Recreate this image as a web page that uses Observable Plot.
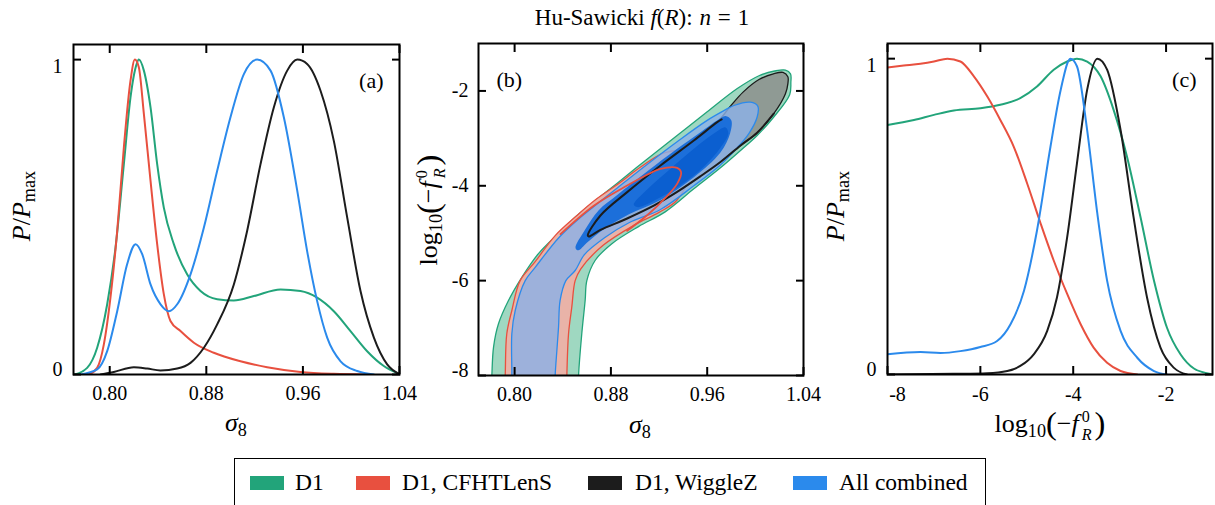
<!DOCTYPE html>
<html><head><meta charset="utf-8">
<script src="https://cdn.jsdelivr.net/npm/d3@7"></script>
<script src="https://cdn.jsdelivr.net/npm/@observablehq/plot@0.6"></script>
<style>
body{margin:0;background:#fff;}
#root{position:relative;width:1215px;height:505px;overflow:hidden;font-family:"Liberation Serif","Times New Roman",serif;color:#000;background:#fff;}
.panel{position:absolute;top:0;}
.lbl{position:absolute;white-space:nowrap;transform:translate(-50%,-50%);font-size:26px;line-height:1;}
.rot{transform:translate(-50%,-50%) rotate(-90deg);}
.sub{font-size:70%;position:relative;top:0.3em;font-style:normal;}
.big{font-size:125%;position:relative;top:0.05em;}
.ss{display:inline-block;vertical-align:-0.5em;font-size:62%;line-height:1.12;text-align:left;margin-left:3px;margin-right:3px;}
.ss span{display:block;}
.sp{display:inline-block;width:0.3em;}
#legend{position:absolute;left:234px;top:458px;width:750px;height:70px;border:1.6px solid #000;background:#fff;}
.sw{position:absolute;width:34px;height:14px;top:17px;}
.lt{position:absolute;top:12px;font-size:23.5px;line-height:1;white-space:nowrap;}
</style></head><body><div id="root"></div>
<script>
// ---------- data ----------
const sigmaTicks = [0.80, 0.88, 0.96, 1.04];
const pTicks = [0, 1];
const fTicks = [-8, -6, -4, -2];
const logTicks = [-2, -4, -6, -8];
const seriesNames = ["D1", "D1, CFHTLenS", "D1, WiggleZ", "All combined"];
const seriesColors = ["#22a47a", "#e8503f", "#1c1c1c", "#2b8aec"];

// panel (a): sigma8 marginals [sigma8, P/Pmax]
const aD1 = [[0.7708,0],[0.7813,0.021],[0.7896,0.085],[0.7979,0.223],[0.8048,0.403],[0.8117,0.668],[0.8172,0.880],[0.8222,0.985],[0.8241,1.0],[0.8283,0.965],[0.8338,0.848],[0.8393,0.668],[0.8448,0.530],[0.8531,0.414],[0.8641,0.318],[0.8752,0.265],[0.889,0.239],[0.9028,0.235],[0.9194,0.249],[0.9415,0.270],[0.958,0.265],[0.9718,0.244],[0.9856,0.201],[0.9994,0.138],[1.0132,0.074],[1.027,0.027],[1.0395,0.002]];
const aD1C = [[0.7827,0],[0.7896,0.021],[0.7951,0.095],[0.8006,0.244],[0.8062,0.456],[0.8117,0.721],[0.8172,0.933],[0.8208,1.0],[0.8241,0.976],[0.8283,0.827],[0.8338,0.615],[0.8393,0.414],[0.8448,0.255],[0.8503,0.170],[0.8586,0.138],[0.8697,0.101],[0.8862,0.069],[0.9083,0.042],[0.9304,0.023],[0.958,0.008],[0.9856,0.002],[1.013,0]];
const aD1W = [[0.7924,0],[0.8034,0.008],[0.82,0.023],[0.831,0.019],[0.842,0.013],[0.8559,0.019],[0.8669,0.037],[0.878,0.085],[0.889,0.159],[0.9028,0.286],[0.9138,0.456],[0.9249,0.668],[0.9359,0.848],[0.947,0.965],[0.9553,1.0],[0.9635,0.986],[0.9746,0.901],[0.9856,0.742],[0.9967,0.498],[1.0077,0.265],[1.0188,0.117],[1.0298,0.032],[1.0395,0.002]];
const aAll = [[0.7758,0],[0.7896,0.016],[0.7979,0.074],[0.8062,0.201],[0.8144,0.350],[0.8214,0.414],[0.8269,0.382],[0.8338,0.286],[0.8421,0.223],[0.849,0.201],[0.8559,0.223],[0.8669,0.318],[0.878,0.467],[0.889,0.647],[0.9,0.817],[0.9111,0.954],[0.9221,1.0],[0.9332,0.965],[0.9442,0.817],[0.9553,0.584],[0.9635,0.392],[0.9718,0.233],[0.9801,0.117],[0.9912,0.042],[1.005,0.011],[1.0188,0]];

// panel (c): log10(-fR0) marginals [log10(-fR0), P/Pmax]
const cD1 = [[-8,0.79],[-7.43,0.806],[-7.0,0.822],[-6.57,0.836],[-6.0,0.843],[-5.57,0.854],[-5.14,0.875],[-4.78,0.912],[-4.42,0.965],[-4.13,0.991],[-3.92,1.0],[-3.70,0.991],[-3.41,0.944],[-3.13,0.838],[-2.84,0.689],[-2.55,0.498],[-2.26,0.297],[-1.98,0.148],[-1.69,0.064],[-1.40,0.019],[-1.04,0.002]];
const cD1C = [[-8,0.972],[-7.65,0.978],[-7.29,0.984],[-7.0,0.991],[-6.71,1.0],[-6.43,0.991],[-6.14,0.944],[-5.85,0.880],[-5.57,0.806],[-5.28,0.721],[-4.99,0.604],[-4.70,0.477],[-4.42,0.361],[-4.13,0.255],[-3.84,0.159],[-3.56,0.085],[-3.27,0.037],[-2.98,0.011],[-2.62,0]];
const cD1W = [[-8,0],[-6.57,0.002],[-5.85,0.004],[-5.42,0.011],[-5.14,0.027],[-4.85,0.064],[-4.56,0.138],[-4.35,0.244],[-4.13,0.435],[-3.92,0.668],[-3.70,0.901],[-3.48,1.0],[-3.27,0.965],[-2.98,0.774],[-2.70,0.498],[-2.41,0.244],[-2.12,0.085],[-1.83,0.021],[-1.55,0]];
const cAll = [[-8,0.064],[-7.29,0.071],[-6.86,0.068],[-6.43,0.074],[-6.0,0.087],[-5.64,0.106],[-5.35,0.159],[-5.06,0.265],[-4.78,0.456],[-4.49,0.721],[-4.27,0.901],[-4.06,1.0],[-3.92,0.976],[-3.70,0.774],[-3.48,0.509],[-3.27,0.297],[-2.98,0.138],[-2.62,0.053],[-2.26,0.011],[-1.98,0]];

// panel (b): 2D contours [sigma8, log10(-fR0)]
const bD1_95 = [[0.7805,-8.5],[0.7811,-8],[0.7825,-7.4],[0.7866,-6.91],[0.7949,-6.42],[0.806,-5.93],[0.8198,-5.43],[0.8365,-5.0],[0.8531,-4.6],[0.8697,-4.26],[0.885,-3.95],[0.91,-3.44],[0.935,-2.94],[0.96,-2.44],[0.985,-1.95],[1.003,-1.68],[1.016,-1.58],[1.025,-1.56],[1.0292,-1.64],[1.0295,-1.82],[1.0285,-2.08],[1.0153,-2.55],[1.0015,-2.94],[0.9877,-3.256],[0.971,-3.621],[0.9489,-4.064],[0.9251,-4.55],[0.9029,-4.86],[0.8808,-5.22],[0.867,-5.57],[0.86,-6.0],[0.8586,-6.42],[0.8558,-7.12],[0.8531,-8],[0.8525,-8.5]];
const bD1C_95 = [[0.7915,-8.5],[0.7922,-8],[0.7935,-7.12],[0.7977,-6.63],[0.8046,-6.0],[0.8171,-5.6],[0.8337,-5.05],[0.8503,-4.66],[0.8669,-4.3],[0.885,-3.98],[0.905,-3.6],[0.925,-3.3],[0.942,-3.3],[0.946,-3.7],[0.935,-4.3],[0.92,-4.56],[0.9,-4.82],[0.8738,-5.25],[0.855,-5.75],[0.8503,-6.0],[0.8475,-6.56],[0.8448,-7.12],[0.8434,-8],[0.843,-8.5]];
const bD1W_68 = [[0.8608,-5.048],[0.8713,-4.626],[0.8935,-4.134],[0.9212,-3.572],[0.9489,-3.045],[0.9683,-2.659],[0.98,-2.3],[0.99,-2.02],[1.003,-1.76],[1.015,-1.64],[1.023,-1.61],[1.027,-1.7],[1.027,-1.85],[1.025,-2.06],[1.0153,-2.48],[1.0015,-2.88],[0.9877,-3.15],[0.971,-3.5],[0.9544,-3.8],[0.935,-4.13],[0.9156,-4.42],[0.8935,-4.69],[0.8713,-4.93],[0.8616,-5.07]];
const bAll_95 = [[0.7972,-8.5],[0.7977,-8],[0.7977,-7.12],[0.8005,-6.63],[0.8088,-6.0],[0.8171,-5.72],[0.8365,-5.1],[0.8531,-4.7],[0.8697,-4.36],[0.885,-4.05],[0.91,-3.55],[0.935,-3.07],[0.96,-2.62],[0.975,-2.4],[0.9821,-2.307],[0.9959,-2.237],[1.002,-2.32],[1.0015,-2.55],[0.9946,-2.9],[0.9849,-3.2],[0.971,-3.56],[0.9489,-4.0],[0.9212,-4.5],[0.895,-4.78],[0.875,-5.09],[0.858,-5.45],[0.8503,-5.786],[0.8426,-6.0],[0.8378,-6.418],[0.8365,-6.98],[0.8351,-7.472],[0.8337,-8],[0.8333,-8.5]];
const bAll_68 = [[0.8506,-5.31],[0.858,-4.95],[0.8697,-4.52],[0.885,-4.2],[0.91,-3.7],[0.935,-3.22],[0.955,-2.86],[0.9685,-2.62],[0.9752,-2.53],[0.98,-2.62],[0.979,-2.9],[0.971,-3.3],[0.9489,-3.82],[0.9212,-4.3],[0.895,-4.6],[0.875,-4.9],[0.86,-5.2],[0.853,-5.36]];
const bAll_core = [[0.899,-4.4],[0.9101,-4.08],[0.9295,-3.64],[0.9489,-3.22],[0.9655,-2.9],[0.9752,-2.77],[0.9775,-2.9],[0.971,-3.2],[0.9572,-3.6],[0.9378,-3.99],[0.9184,-4.28],[0.903,-4.45]];
const bD1W_line = [[0.972,-2.6],[0.9683,-2.659],[0.9489,-3.045],[0.9212,-3.572],[0.8935,-4.134],[0.8713,-4.626],[0.8608,-5.048],[0.8616,-5.07],[0.8713,-4.93],[0.8935,-4.69],[0.9156,-4.42],[0.935,-4.13],[0.9544,-3.8],[0.971,-3.5],[0.9877,-3.15],[1.0015,-2.88],[1.0153,-2.48]];
const bD1C_68 = [[0.8381,-5.02],[0.8658,-4.42],[0.8935,-3.994],[0.9073,-3.804],[0.9212,-3.642],[0.935,-3.621],[0.9383,-3.713],[0.935,-3.959],[0.9212,-4.36],[0.9073,-4.68],[0.8935,-4.95]];

// ---------- helpers ----------
const FONT = '"Liberation Serif","Times New Roman",serif';
const [cGreen, cRed, cBlack, cBlue] = seriesColors;
const fmt2 = d3.format(".2f");
const plain = d => String(d);
const X = d => d[0], Y = d => d[1];
const baseStyle = {fontFamily: FONT, fontSize: "20px", background: "transparent", overflow: "visible", color: "#000"};

function tickMarks(xt, yt) {
  const o = {tickSize: -8, strokeWidth: 2, tickFormat: () => "", label: null};
  return [
    Plot.axisX(xt, {anchor: "bottom", ...o}),
    Plot.axisX(xt, {anchor: "top", ...o}),
    Plot.axisY(yt, {anchor: "left", ...o}),
    Plot.axisY(yt, {anchor: "right", ...o})
  ];
}
function curve(data, stroke) {
  return Plot.line(data, {x: X, y: Y, stroke, strokeWidth: 2, curve: "monotone-x", clip: true});
}
function poly(data, fill, stroke, extra = {}) {
  return Plot.line(data, {x: X, y: Y, fill, stroke, strokeWidth: 1.3, curve: "catmull-rom-closed", clip: true, ...extra});
}
function path(data, stroke, w = 1.8) {
  return Plot.line(data, {x: X, y: Y, stroke, strokeWidth: w, curve: "catmull-rom", clip: true});
}
function panelLabel(t, anchor, dx) {
  return Plot.text([t], {frameAnchor: anchor, dx, dy: 36, text: d => d, fontSize: 22, lineAnchor: "middle",
    textAnchor: anchor === "top-right" ? "end" : "start"});
}

const root = document.getElementById("root");
function place(svg, left) {
  const d = document.createElement("div");
  d.className = "panel";
  d.style.left = left + "px";
  d.appendChild(svg);
  root.appendChild(d);
}

// ---------- panel (a) ----------
const pa = Plot.plot({
  width: 405, height: 450, marginTop: 44, marginBottom: 76, marginLeft: 73, marginRight: 6,
  style: baseStyle,
  x: {domain: [0.77, 1.04]}, y: {domain: [0, 1.048]},
  marks: [
    curve(aD1, cGreen), curve(aD1C, cRed), curve(aD1W, cBlack), curve(aAll, cBlue),
    Plot.frame({stroke: "#000", strokeWidth: 2}),
    ...tickMarks(sigmaTicks, pTicks),
    Plot.axisX(sigmaTicks, {anchor: "bottom", tickSize: 0, tickPadding: 11, tickFormat: fmt2, label: null}),
    Plot.axisY([1], {anchor: "left", tickSize: 0, tickPadding: 11, dy: 7, tickFormat: plain, label: null}),
    Plot.axisY([0], {anchor: "left", tickSize: 0, tickPadding: 11, dy: -5, tickFormat: plain, label: null}),
    panelLabel("(a)", "top-right", -16)
  ]
});
place(pa, 0);

// ---------- panel (b) ----------
const pb = Plot.plot({
  width: 405, height: 450, marginTop: 43, marginBottom: 75, marginLeft: 73, marginRight: 7,
  style: baseStyle,
  x: {domain: [0.77, 1.04]}, y: {domain: [-8, -1]},
  marks: [
    poly(bD1_95, "#9fd8c1", cGreen),
    poly(bD1C_95, "#e9b3a8", cRed),
    poly(bD1W_68, "#8f9a94", cBlack),
    poly(bAll_95, "#8cb1e6", cBlue, {fillOpacity: 0.82}),
    poly(bAll_68, "#1c6fda", "none"),
    poly(bAll_core, "#0b5fd0", "none"),
    path(bD1W_line, cBlack, 2),
    path(bD1C_68, cRed, 1.8),
    Plot.frame({stroke: "#000", strokeWidth: 2}),
    ...tickMarks(sigmaTicks, logTicks),
    Plot.axisX(sigmaTicks, {anchor: "bottom", tickSize: 0, tickPadding: 11, tickFormat: fmt2, label: null}),
    Plot.axisY([-2, -4, -6], {anchor: "left", tickSize: 0, tickPadding: 10, tickFormat: plain, label: null}),
    Plot.axisY([-8], {anchor: "left", tickSize: 0, tickPadding: 10, dy: -5, tickFormat: plain, label: null}),
    panelLabel("(b)", "top-left", 18)
  ]
});
place(pb, 405);

// ---------- panel (c) ----------
const pc = Plot.plot({
  width: 400, height: 450, marginTop: 43, marginBottom: 76, marginLeft: 72, marginRight: 3,
  style: baseStyle,
  x: {domain: [-8, -1]}, y: {domain: [0, 1.048]},
  marks: [
    curve(cD1, cGreen), curve(cD1C, cRed), curve(cD1W, cBlack), curve(cAll, cBlue),
    Plot.frame({stroke: "#000", strokeWidth: 2}),
    ...tickMarks(fTicks, pTicks),
    Plot.axisX([-6, -4, -2], {anchor: "bottom", tickSize: 0, tickPadding: 12, tickFormat: plain, label: null}),
    Plot.axisX([-8], {anchor: "bottom", tickSize: 0, tickPadding: 12, dx: 10, tickFormat: plain, label: null}),
    Plot.axisY([1], {anchor: "left", tickSize: 0, tickPadding: 11, dy: 7, tickFormat: plain, label: null}),
    Plot.axisY([0], {anchor: "left", tickSize: 0, tickPadding: 11, dy: -5, tickFormat: plain, label: null}),
    panelLabel("(c)", "top-right", -16)
  ]
});
place(pc, 815);

// ---------- text labels ----------
function label(html, cx, cy, rot = false, size = 26) {
  const d = document.createElement("div");
  d.className = "lbl" + (rot ? " rot" : "");
  d.style.left = cx + "px"; d.style.top = cy + "px"; d.style.fontSize = size + "px";
  d.innerHTML = html;
  root.appendChild(d);
}
const sig8 = '<i>σ</i><span class="sub">8</span>';
const pp = '<i>P</i>/<i>P</i><span class="sub">max</span>';
const logf = 'log<span class="sub">10</span><span class="big">(</span>−<i>f</i><span class="ss"><span>0</span><span><i>R</i></span></span><span class="big">)</span>';
label('Hu-Sawicki <i>f</i>(<i>R</i>):<span class="sp"></span><i>n</i><span class="sp"></span>=<span class="sp"></span>1', 642, 17, false, 23);
label(sig8, 236, 423);
label(pp, 22, 206, true);
label(sig8, 640, 425);
label(logf, 430, 210, true);
label(logf, 1050, 425);
label(pp, 836, 206, true);

// ---------- legend ----------
const lg = document.createElement("div");
lg.id = "legend";
const swX = [15, 121, 353, 558];
const txX = [60, 167, 400, 604];
seriesNames.forEach((n, i) => {
  const s = document.createElement("div");
  s.className = "sw"; s.style.left = swX[i] + "px"; s.style.background = seriesColors[i];
  lg.appendChild(s);
  const t = document.createElement("div");
  t.className = "lt"; t.style.left = txX[i] + "px"; t.textContent = n;
  lg.appendChild(t);
});
root.appendChild(lg);
</script></body></html>
